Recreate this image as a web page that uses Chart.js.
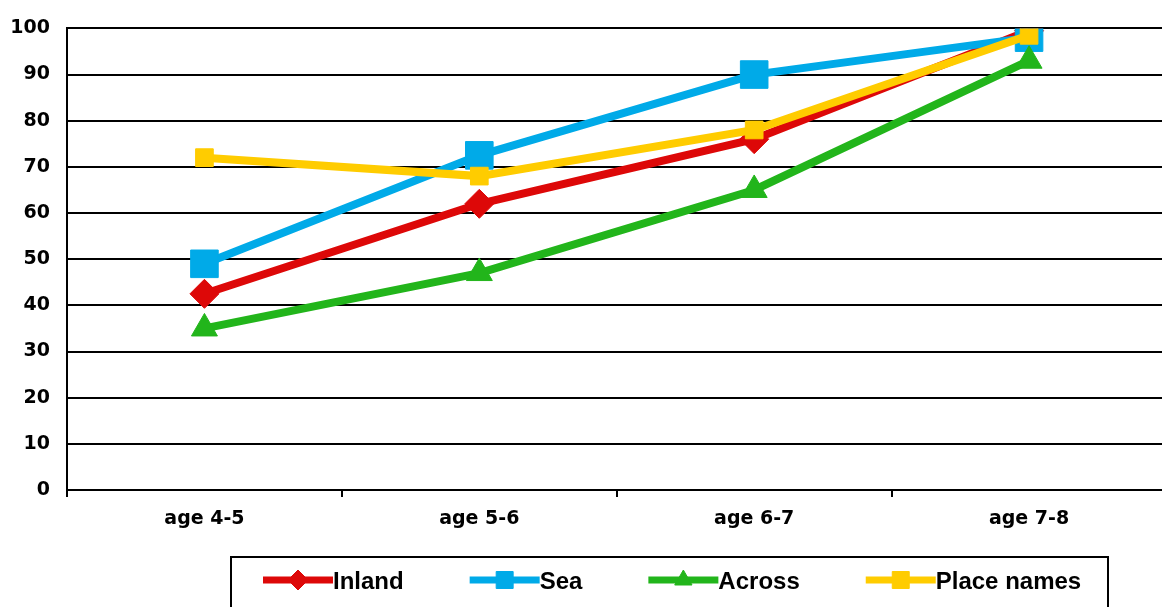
<!DOCTYPE html>
<html>
<head>
<meta charset="utf-8">
<script src="https://cdn.jsdelivr.net/npm/chart.js@4/dist/chart.umd.min.js"></script>
<style>
  html, body { margin: 0; padding: 0; background: #fff; overflow: hidden; }
  canvas { display: block; }
</style>
</head>
<body>
<canvas id="chart" width="1187" height="607"></canvas>
<script>
const categories = ["age 4-5", "age 5-6", "age 6-7", "age 7-8"];
const inland = [42.5, 62, 76, 99.5];
const sea = [49, 72.5, 90, 98];
const across = [35, 47, 65, 93];
const placeNames = [72, 68, 78, 98.5];

const RED = "#dd0808";
const BLUE = "#00aae8";
const GREEN = "#22b51b";
const YELLOW = "#ffcc00";

const tickFont = { family: "DejaVu Sans", weight: "bold", size: 19 };

function series(label, data, color, style, radius, legendRadius, order) {
  return {
    label: label,
    data: data,
    borderColor: color,
    backgroundColor: color,
    borderWidth: 8,
    pointStyle: style,
    pointRadius: radius,
    pointBackgroundColor: color,
    pointBorderColor: color,
    pointBorderWidth: 1,
    legendRadius: legendRadius,
    tension: 0,
    order: order
  };
}

// boxed legend: line sample with marker, then bold label
const boxLegend = {
  id: "boxLegend",
  afterDraw(chart) {
    const ctx = chart.ctx;
    ctx.save();
    ctx.strokeStyle = "#000";
    ctx.lineWidth = 2;
    ctx.strokeRect(231, 557, 877, 70);
    ctx.font = "bold 24px 'Liberation Sans', Arial, sans-serif";
    ctx.textBaseline = "middle";
    ctx.textAlign = "left";
    let x = 263;
    const y = 580;
    chart.data.datasets.forEach(ds => {
      ctx.strokeStyle = ds.borderColor;
      ctx.lineWidth = 7;
      ctx.beginPath();
      ctx.moveTo(x, y);
      ctx.lineTo(x + 70, y);
      ctx.stroke();
      ctx.fillStyle = ds.borderColor;
      ctx.strokeStyle = ds.borderColor;
      ctx.lineWidth = 1;
      Chart.helpers.drawPoint(ctx, {
        pointStyle: ds.pointStyle,
        radius: ds.legendRadius,
        rotation: 0,
        borderWidth: 1
      }, x + 35, y);
      ctx.fillStyle = "#000";
      ctx.fillText(ds.label, x + 70, y + 2);
      x += 70 + ctx.measureText(ds.label).width + 66;
    });
    ctx.restore();
  }
};

new Chart(document.getElementById("chart"), {
  type: "line",
  data: {
    labels: categories,
    datasets: [
      series("Inland", inland, RED, "rectRot", 14.5, 10, 4),
      series("Sea", sea, BLUE, "rect", 19.5, 12, 3),
      series("Across", across, GREEN, "triangle", 15, 10, 2),
      series("Place names", placeNames, YELLOW, "rect", 12.5, 12, 1)
    ]
  },
  options: {
    responsive: false,
    animation: false,
    layout: { padding: { top: 22, left: 0, right: 0, bottom: 0 } },
    plugins: {
      legend: { display: false },
      tooltip: { enabled: false }
    },
    scales: {
      x: {
        offset: true,
        grid: {
          offset: true,
          drawOnChartArea: false,
          color: "#000",
          lineWidth: 2,
          tickLength: 7
        },
        border: { color: "#000", width: 2 },
        ticks: { color: "#000", font: tickFont, padding: 11, maxRotation: 0 },
        afterFit(scale) { scale.height = 117; }
      },
      y: {
        min: 0,
        max: 100,
        ticks: { stepSize: 10, color: "#000", font: tickFont, padding: 17 },
        grid: { color: "#000", lineWidth: 2, drawTicks: false },
        border: { color: "#000", width: 2 },
        afterFit(scale) { scale.width = 67; }
      }
    }
  },
  plugins: [boxLegend]
});
</script>
</body>
</html>
